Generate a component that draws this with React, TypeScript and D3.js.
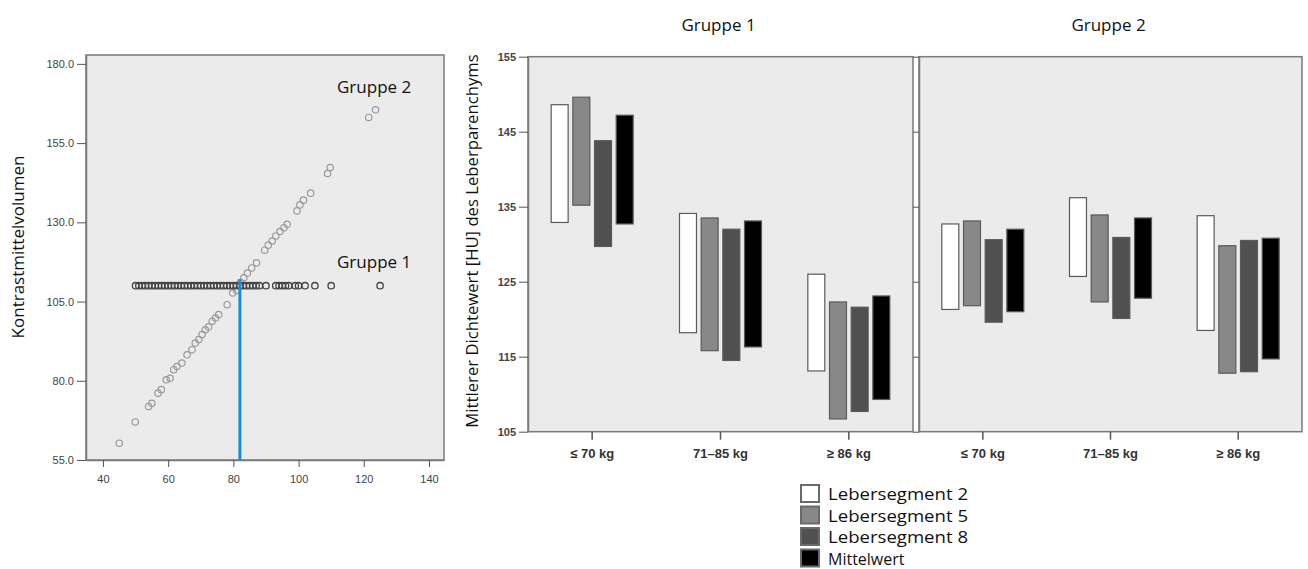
import React, { useEffect, useRef } from 'react';
import * as d3 from 'd3';

// scatter: Gewicht vs. Kontrastmittelvolumen
const scatterTicksX = [40, 60, 80, 100, 120, 140];
const scatterTicksY = [55, 80, 105, 130, 155, 180];
const gruppe1Weights = [50, 51, 52, 53, 54, 55, 56, 57, 58, 59, 60, 61, 62, 63, 64, 65, 66, 67, 68, 69, 70,
  71, 72, 73, 74, 75, 76, 77, 78, 79, 80, 81, 82, 83, 84, 85, 86, 87, 88, 90, 93, 94, 95, 96, 97, 99, 100,
  102, 105, 110, 125];
const gruppe1Volume = 110;
const gruppe2Points = [
  [45, 60.3], [49.9, 67], [54, 71.9], [55, 72.9], [56.9, 76.1], [57.9, 77.2], [59.4, 80.3], [60.6, 80.8],
  [61.7, 83.5], [62.7, 84.5], [64.2, 85.6], [65.8, 88.2], [67.3, 89.8], [68.3, 91.9], [69.4, 93],
  [70.4, 94.6], [71.4, 96.1], [72.4, 97], [73.5, 98.8], [74.5, 99.8], [75.5, 100.9], [78.1, 104],
  [79.8, 107.7], [81, 108.5], [82.2, 111.1], [83.2, 112.5], [84.3, 114], [85.6, 115.6], [87.1, 117.2],
  [89.6, 121.2], [90.7, 122.8], [91.9, 124.1], [93, 125.7], [94.3, 127.1], [95.5, 128.3], [96.5, 129.4],
  [99.5, 133.6], [100.4, 135.5], [101.5, 137], [103.7, 139.2], [108.9, 145.4], [109.7, 147.3],
  [121.5, 163.1], [123.6, 165.5]
];
const cutoffWeight = 82;
const cutoffTop = 112;

// range bars: Dichtewert je Gewichtsklasse
const categories = ['≤ 70 kg', '71–85 kg', '≥ 86 kg'];
const series = ['Lebersegment 2', 'Lebersegment 5', 'Lebersegment 8', 'Mittelwert'];
const seriesColors = ['#ffffff', '#888888', '#505050', '#000000'];
const barTicks = [105, 115, 125, 135, 145, 155];
const gruppe1High = [[148.6, 149.6, 143.8, 147.2], [134.1, 133.5, 132.0, 133.1], [126.0, 122.3, 121.6, 123.1]];
const gruppe1Low = [[132.9, 135.2, 129.7, 132.7], [118.2, 115.8, 114.5, 116.3], [113.1, 106.7, 107.7, 109.3]];
const gruppe2High = [[132.7, 133.1, 130.6, 132.0], [136.2, 133.9, 130.9, 133.5], [133.8, 129.8, 130.5, 130.8]];
const gruppe2Low = [[121.3, 121.8, 119.6, 121.0], [125.7, 122.3, 120.1, 122.8], [118.5, 112.8, 113.0, 114.7]];

const FONT = "'Open Sans', sans-serif";
const TICK_FONT = "'Liberation Sans', Arial, sans-serif";

const App = () => {
  const svgRef = useRef(null);
  const width = 1308;
  const height = 569;

  useEffect(() => {
    const svg = d3.select(svgRef.current);
    svg.selectAll('*').remove();

    // ---------- left scatter ----------
    const sx = d3.scaleLinear().domain([34.8, 144.6]).range([86, 444]);
    const sy = d3.scaleLinear().domain([55, 182.8]).range([460, 55]);

    svg.append('rect')
      .attr('x', 86).attr('y', 55)
      .attr('width', 444 - 86).attr('height', 460 - 55)
      .attr('fill', '#ebebeb')
      .attr('stroke', '#7a7a7a')
      .attr('stroke-width', 1.5);

    const yAxisL = svg.append('g')
      .attr('transform', 'translate(86,0)')
      .call(d3.axisLeft(sy).tickValues(scatterTicksY).tickFormat(d3.format('.1f')).tickSize(9).tickSizeOuter(0));
    const xAxisL = svg.append('g')
      .attr('transform', 'translate(0,460)')
      .call(d3.axisBottom(sx).tickValues(scatterTicksX).tickSize(7).tickSizeOuter(0));
    [yAxisL, xAxisL].forEach(ax => {
      ax.select('.domain').attr('stroke', '#7a7a7a').attr('stroke-width', 1.5);
      ax.selectAll('line').attr('stroke', '#555');
      ax.selectAll('text')
        .style('font-family', TICK_FONT)
        .style('font-size', '11px')
        .attr('fill', '#444');
    });
    xAxisL.selectAll('text').attr('dy', '1.2em');

    svg.append('text')
      .attr('transform', 'translate(24,247) rotate(-90)')
      .attr('text-anchor', 'middle')
      .style('font-family', FONT)
      .style('font-size', '17px')
      .attr('fill', '#111')
      .text('Kontrastmittelvolumen');

    svg.append('g').selectAll('circle')
      .data(gruppe2Points)
      .enter()
      .append('circle')
      .attr('cx', d => sx(d[0]))
      .attr('cy', d => sy(d[1]))
      .attr('r', 3.2)
      .attr('fill', 'none')
      .attr('stroke', '#9a9a9a')
      .attr('stroke-width', 1.2);

    svg.append('g').selectAll('circle')
      .data(gruppe1Weights)
      .enter()
      .append('circle')
      .attr('cx', d => sx(d))
      .attr('cy', sy(gruppe1Volume))
      .attr('r', 3.2)
      .attr('fill', 'none')
      .attr('stroke', '#444')
      .attr('stroke-width', 1.3);

    svg.append('line')
      .attr('x1', sx(cutoffWeight)).attr('x2', sx(cutoffWeight))
      .attr('y1', sy(55)).attr('y2', sy(cutoffTop))
      .attr('stroke', '#1a8ccf')
      .attr('stroke-width', 3);

    svg.append('text')
      .attr('x', 337).attr('y', 93)
      .style('font-family', FONT).style('font-size', '17px')
      .attr('fill', '#111')
      .text('Gruppe 2');
    svg.append('text')
      .attr('x', 337).attr('y', 268)
      .style('font-family', FONT).style('font-size', '17px')
      .attr('fill', '#111')
      .text('Gruppe 1');

    // ---------- right range bars ----------
    const by = d3.scaleLinear().domain([105, 155]).range([431.7, 56.7]);
    const inner = d3.scaleBand().domain(series).range([-41, 41]).paddingInner(0.217);

    const panels = [
      { title: 'Gruppe 1', x0: 528, x1: 913, high: gruppe1High, low: gruppe1Low },
      { title: 'Gruppe 2', x0: 919, x1: 1302, high: gruppe2High, low: gruppe2Low }
    ];

    panels.forEach((p, pi) => {
      const bx = d3.scaleBand().domain(categories).range([p.x0, p.x1]);
      const g = svg.append('g');

      g.append('rect')
        .attr('x', p.x0).attr('y', by(155))
        .attr('width', p.x1 - p.x0).attr('height', by(105) - by(155))
        .attr('fill', '#ebebeb')
        .attr('stroke', '#7a7a7a')
        .attr('stroke-width', 1.5);

      const yAx = g.append('g')
        .attr('transform', `translate(${p.x0},0)`)
        .call(d3.axisLeft(by).tickValues(barTicks).tickSize(pi === 0 ? 9 : 6).tickSizeOuter(0));
      yAx.select('.domain').attr('stroke', '#7a7a7a').attr('stroke-width', 1.5);
      yAx.selectAll('line').attr('stroke', '#555');
      if (pi === 0) {
        yAx.selectAll('text')
          .style('font-family', TICK_FONT)
          .style('font-size', '11px')
          .style('font-weight', 'bold')
          .attr('fill', '#444');
      } else {
        yAx.selectAll('text').remove();
      }

      const xAx = g.append('g')
        .attr('transform', `translate(0,${by(105)})`)
        .call(d3.axisBottom(bx).tickSize(8).tickSizeOuter(0));
      xAx.select('.domain').remove();
      xAx.selectAll('line').attr('stroke', '#555').attr('stroke-width', 1.5);
      xAx.selectAll('text')
        .attr('dy', '1.2em')
        .style('font-family', TICK_FONT)
        .style('font-size', '13px')
        .style('font-weight', 'bold')
        .attr('fill', '#333');

      categories.forEach((c, ci) => {
        const cx = bx(c) + bx.bandwidth() / 2;
        g.append('g').selectAll('rect')
          .data(series)
          .enter()
          .append('rect')
          .attr('x', s => cx + inner(s))
          .attr('y', (s, si) => by(p.high[ci][si]))
          .attr('width', inner.bandwidth())
          .attr('height', (s, si) => by(p.low[ci][si]) - by(p.high[ci][si]))
          .attr('fill', (s, si) => seriesColors[si])
          .attr('stroke', '#5a5a5a')
          .attr('stroke-width', 1.2);
      });

      svg.append('text')
        .attr('x', (p.x0 + p.x1) / 2 - 2)
        .attr('y', 31)
        .attr('text-anchor', 'middle')
        .style('font-family', FONT).style('font-size', '17px')
        .attr('fill', '#111')
        .text(p.title);
    });

    svg.append('text')
      .attr('transform', 'translate(478,241) rotate(-90)')
      .attr('text-anchor', 'middle')
      .style('font-family', FONT)
      .style('font-size', '16.7px')
      .attr('fill', '#111')
      .text('Mittlerer Dichtewert [HU] des Leberparenchyms');

    // legend
    const legend = svg.append('g').attr('transform', 'translate(801,485)');
    series.forEach((s, i) => {
      legend.append('rect')
        .attr('x', 0).attr('y', i * 21.5)
        .attr('width', 18).attr('height', 17)
        .attr('fill', seriesColors[i])
        .attr('stroke', '#6a6a6a')
        .attr('stroke-width', 2);
      legend.append('text')
        .attr('x', 27).attr('y', i * 21.5 + 15)
        .attr('textLength', s === 'Mittelwert' ? null : 140)
        .attr('lengthAdjust', 'spacingAndGlyphs')
        .style('font-family', FONT).style('font-size', '16px')
        .attr('fill', '#111')
        .text(s);
    });
  }, []);

  return (
    <svg ref={svgRef} width={width} height={height}
      style={{ position: 'absolute', left: 0, top: 0, background: '#fff' }} />
  );
};

export default App;
